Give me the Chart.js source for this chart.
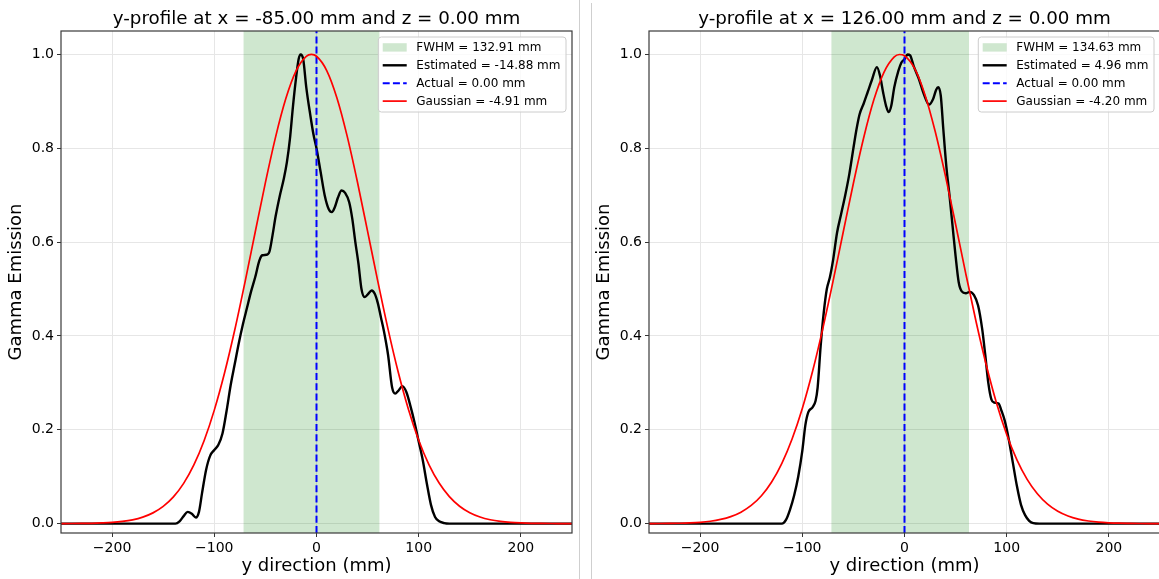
<!DOCTYPE html>
<html>
<head>
<meta charset="utf-8">
<script src="https://cdn.jsdelivr.net/npm/chart.js@4"></script>
<style>
  html, body { margin: 0; padding: 0; background: #fff; overflow: hidden; }
  #wrap { position: relative; width: 1159px; height: 579px; }
  canvas { position: absolute; top: 0; }
  #left { left: 0; }
  #right { left: 588px; }
  .sep { position: absolute; top: 0; width: 1px; height: 579px; background: #cfcfcf; }
</style>
</head>
<body>
<div id="wrap">
  <canvas id="left" width="579" height="579"></canvas>
  <canvas id="right" width="579" height="579"></canvas>
  <div class="sep" style="left:579px"></div>
  <div class="sep" style="left:591px; top:3px"></div>
</div>
<script>
Chart.defaults.font.family = "'DejaVu Sans', sans-serif";
Chart.defaults.color = '#000';

// axis ticks and limits
const xTicks = [-200, -100, 0, 100, 200];
const yTicks = [0, 0.2, 0.4, 0.6, 0.8, 1.0];
const yMin = -0.02, yMax = 1.05;

// positions (mm) the gaussian fits are sampled at
const gaussX = [-250, -240, -230, -220, -210, -200, -190, -180, -170, -160, -150, -140, -130, -120, -110, -100, -90, -80, -70, -60, -50, -40, -30, -20, -10, -5,
  0, 10, 20, 30, 40, 50, 60, 70, 80, 90, 100, 110, 120, 130, 140, 150, 160, 170, 180, 190, 200, 210, 220, 230, 240, 250];

// ---- profile at x = -85 mm ----
const leftFwhm = 132.91, leftEstimated = -14.88, leftActual = 0.00, leftGaussian = -4.91;
const leftEstX = [-250, -200, -150, -138, -134, -130, -126, -122, -118, -115, -112, -108, -104, -100, -96, -92, -88, -84, -80, -76, -72, -68, -64, -60, -56, -53, -49, -46, -43, -40,
  -36, -32, -29, -26, -23, -20, -17.5, -15.5, -13, -10, -6, -3, 0, 4, 8, 12, 15, 18, 21, 24.5, 28, 32, 35, 38, 41, 44, 47, 50, 54, 57, 60, 63, 66, 70, 74, 77, 80, 84, 88, 92, 96,
  100, 104, 108, 112, 116, 120, 125, 130, 150, 200, 250];
const leftEstY = [0, 0, 0, 0, 0.005, 0.016, 0.025, 0.021, 0.013, 0.025, 0.065, 0.115, 0.145, 0.157, 0.168, 0.192, 0.24, 0.295, 0.34, 0.385, 0.425, 0.46, 0.495, 0.525, 0.56, 0.572, 0.573, 0.58, 0.615, 0.655,
  0.698, 0.735, 0.77, 0.82, 0.89, 0.95, 0.99, 1.0, 0.99, 0.93, 0.87, 0.83, 0.80, 0.75, 0.70, 0.67, 0.664, 0.675, 0.695, 0.71, 0.705, 0.685, 0.65, 0.60, 0.555, 0.50, 0.483, 0.488, 0.497, 0.49, 0.47, 0.44, 0.41, 0.36, 0.29, 0.277, 0.283, 0.293, 0.28, 0.25, 0.215,
  0.175, 0.135, 0.085, 0.04, 0.014, 0.005, 0.001, 0, 0, 0, 0];
const leftGaussY = [0.0001, 0.0002, 0.0004, 0.0007, 0.0014, 0.0025, 0.0046, 0.0081, 0.0139, 0.0229, 0.0367, 0.057, 0.0858, 0.1251, 0.1767, 0.2419, 0.321, 0.4127, 0.5143, 0.6211, 0.7268, 0.8243, 0.9059, 0.9649, 0.9959, 1.0,
  0.9962, 0.9657, 0.9072, 0.8259, 0.7286, 0.623, 0.5162, 0.4145, 0.3225, 0.2432, 0.1777, 0.1259, 0.0864, 0.0575, 0.037, 0.0231, 0.014, 0.0082, 0.0047, 0.0026, 0.0014, 0.0007, 0.0004, 0.0002, 0.0001, 0];

// ---- profile at x = 126 mm ----
const rightFwhm = 134.63, rightEstimated = 4.96, rightActual = 0.00, rightGaussian = -4.20;
const rightEstX = [-250, -200, -150, -120, -116, -112, -108, -104, -100, -97, -94, -90, -87, -85, -82, -79, -76, -73, -70, -66, -62, -58, -54, -50, -47, -44, -40, -36, -32, -27,
  -24, -21, -18, -15.5, -13, -10, -6, -3, 0, 3, 5.5, 9, 14, 19, 24, 28, 31, 33, 35.5, 38, 41, 44, 47, 50, 53, 56, 60, 64, 68, 72, 76, 79, 82, 85, 88, 92, 95, 98,
  102, 106, 110, 114, 118, 122, 126, 132, 150, 200, 250];
const rightEstY = [0, 0, 0, 0, 0.008, 0.03, 0.06, 0.1, 0.155, 0.21, 0.238, 0.248, 0.262, 0.29, 0.38, 0.45, 0.50, 0.525, 0.56, 0.62, 0.66, 0.70, 0.745, 0.80, 0.84, 0.872, 0.895, 0.92, 0.945, 0.973,
  0.955, 0.92, 0.89, 0.877, 0.89, 0.93, 0.965, 0.983, 0.99, 1.0, 0.998, 0.975, 0.948, 0.915, 0.893, 0.905, 0.925, 0.93, 0.912, 0.84, 0.76, 0.70, 0.635, 0.57, 0.515, 0.495, 0.491, 0.494, 0.487, 0.465, 0.415, 0.36, 0.30, 0.265, 0.258, 0.256, 0.24, 0.22,
  0.18, 0.13, 0.08, 0.04, 0.018, 0.006, 0.001, 0, 0, 0, 0];
const rightGaussY = [0.0001, 0.0002, 0.0004, 0.0008, 0.0015, 0.0028, 0.0051, 0.0089, 0.0149, 0.0244, 0.0387, 0.0595, 0.0888, 0.1286, 0.1805, 0.2456, 0.3243, 0.4152, 0.5157, 0.6211, 0.7255, 0.8219, 0.9032, 0.9625, 0.9949, 0.9999,
  0.9973, 0.9696, 0.9143, 0.8362, 0.7417, 0.638, 0.5323, 0.4308, 0.3381, 0.2573, 0.19, 0.136, 0.0944, 0.0636, 0.0415, 0.0263, 0.0162, 0.0096, 0.0056, 0.0031, 0.0017, 0.0009, 0.0005, 0.0002, 0.0001, 0.0001];

const green = 'rgba(0,128,0,0.19)';

// fwhm band, axes frame and the legend box
const profilePlugin = {
  id: 'profile',
  beforeDatasetsDraw(chart, args, opts) {
    const {ctx, chartArea: a, scales: {x}} = chart;
    const x0 = x.getPixelForValue(opts.center - opts.fwhm / 2);
    const x1 = x.getPixelForValue(opts.center + opts.fwhm / 2);
    ctx.save();
    ctx.fillStyle = green;
    ctx.fillRect(x0, a.top, x1 - x0, a.bottom - a.top);
    ctx.restore();
  },
  afterDraw(chart, args, opts) {
    const {ctx, chartArea: a} = chart;
    ctx.save();
    ctx.strokeStyle = '#3a3a3a';
    ctx.lineWidth = 1.2;
    ctx.strokeRect(a.left, a.top, a.right - a.left, a.bottom - a.top);

    ctx.font = "12px 'DejaVu Sans'";
    const items = opts.items;
    const maxW = Math.max(...items.map(it => ctx.measureText(it.text).width));
    const w = maxW + 43.5, h = 75;
    const bx = a.right - 6 - w, by = a.top + 6;
    ctx.beginPath();
    ctx.roundRect(bx, by, w, h, 3);
    ctx.fillStyle = 'rgba(255,255,255,0.8)';
    ctx.fill();
    ctx.strokeStyle = '#cccccc';
    ctx.lineWidth = 1;
    ctx.stroke();

    items.forEach((it, i) => {
      const cy = by + 10.4 + i * 17.9, hx = bx + 4.4;
      if (it.patch) {
        ctx.fillStyle = green;
        ctx.fillRect(hx, cy - 4.2, 24, 8.4);
      } else {
        ctx.beginPath();
        ctx.setLineDash(it.dash || []);
        ctx.strokeStyle = it.color;
        ctx.lineWidth = it.width;
        ctx.moveTo(hx, cy);
        ctx.lineTo(hx + 24, cy);
        ctx.stroke();
        ctx.setLineDash([]);
      }
      ctx.fillStyle = '#000';
      ctx.textBaseline = 'middle';
      ctx.fillText(it.text, hx + 33.6, cy + 0.5);
    });
    ctx.restore();
  }
};

function points(xs, ys) {
  return xs.map((x, i) => ({x: x, y: ys[i]}));
}

function profile(id, p) {
  return new Chart(document.getElementById(id), {
    type: 'line',
    data: {
      datasets: [
        {label: 'Estimated', data: points(p.estX, p.estY), borderColor: '#000', borderWidth: 2.4, order: 3},
        {label: 'Actual', data: [{x: p.actual, y: yMin}, {x: p.actual, y: yMax}], borderColor: '#0000ff', borderWidth: 2,
          borderDash: [7, 3.2], cubicInterpolationMode: 'default', tension: 0, order: 2},
        {label: 'Gaussian', data: points(gaussX, p.gaussY), borderColor: '#ff0000', borderWidth: 1.7, order: 1}
      ]
    },
    options: {
      responsive: false,
      animation: false,
      layout: {padding: {right: 7}},
      elements: {
        point: {radius: 0},
        line: {cubicInterpolationMode: 'monotone', fill: false}
      },
      plugins: {
        legend: {display: false},
        tooltip: {enabled: false},
        title: {
          display: true, text: p.title, fullSize: false, color: '#000',
          font: {size: 18.3, weight: 'normal'}, padding: {top: 8, bottom: 1.04}
        },
        profile: {
          center: p.gaussian, fwhm: p.fwhm,
          items: [
            {patch: true, text: 'FWHM = ' + p.fwhm.toFixed(2) + ' mm'},
            {color: '#000', width: 2.4, text: 'Estimated = ' + p.estimated.toFixed(2) + ' mm'},
            {color: '#0000ff', width: 2, dash: [7, 3.2], text: 'Actual = ' + p.actual.toFixed(2) + ' mm'},
            {color: '#ff0000', width: 1.7, text: 'Gaussian = ' + p.gaussian.toFixed(2) + ' mm'}
          ]
        }
      },
      scales: {
        x: {
          type: 'linear', min: -250, max: 250,
          afterBuildTicks: s => { s.ticks = xTicks.map(v => ({value: v})); },
          afterFit: s => { s.height = 46; },
          ticks: {
            callback: v => String(v).replace('-', '\u2212'),
            font: {size: 14}, color: '#000', padding: 3, maxRotation: 0, autoSkip: false
          },
          grid: {color: '#e6e6e6', tickColor: '#333', tickLength: 4},
          border: {display: false},
          title: {display: true, text: 'y direction (mm)', font: {size: 18}, color: '#000', padding: {top: 2, bottom: 2}}
        },
        y: {
          type: 'linear', min: yMin, max: yMax,
          afterBuildTicks: s => { s.ticks = yTicks.map(v => ({value: v})); },
          afterFit: s => { s.width = 61; },
          ticks: {
            callback: v => v.toFixed(1),
            font: {size: 14}, color: '#000', padding: 3, autoSkip: false
          },
          grid: {color: '#e6e6e6', tickColor: '#333', tickLength: 4},
          border: {display: false},
          title: {display: true, text: 'Gamma Emission', font: {size: 18}, color: '#000', padding: {top: 6, bottom: 6}}
        }
      }
    },
    plugins: [profilePlugin]
  });
}

profile('left', {
  title: 'y-profile at x = -85.00 mm and z = 0.00 mm',
  estX: leftEstX, estY: leftEstY, gaussY: leftGaussY,
  fwhm: leftFwhm, estimated: leftEstimated, actual: leftActual, gaussian: leftGaussian
});

profile('right', {
  title: 'y-profile at x = 126.00 mm and z = 0.00 mm',
  estX: rightEstX, estY: rightEstY, gaussY: rightGaussY,
  fwhm: rightFwhm, estimated: rightEstimated, actual: rightActual, gaussian: rightGaussian
});
</script>
</body>
</html>
